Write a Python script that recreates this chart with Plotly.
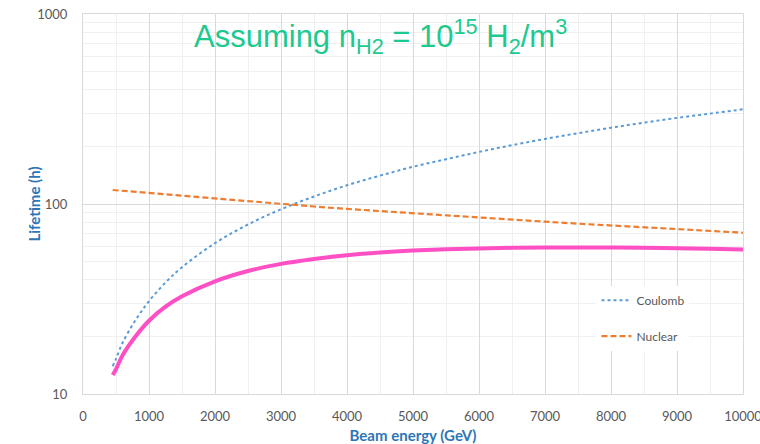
import plotly.graph_objects as go

energy = [450, 500, 600, 800, 1000, 1250, 1500, 2000, 2500, 3000, 3500, 4000, 4500,
          5000, 5500, 6000, 6500, 7000, 7500, 8000, 8500, 9000, 9500, 10000]
coulomb = [14.0, 15.3, 18.6, 24.6, 30.8, 38.6, 46.5, 62.2, 78.0, 93.8, 109.5, 125.5, 141,
           157, 172, 188, 204, 220, 236, 252, 268, 284, 299, 315]
nuclear = [118.5, 118.1, 117.4, 116.1, 114.8, 113.0, 111.2, 107.4, 103.6, 100.2, 97.0, 94.2, 91.7,
           89.3, 87.0, 84.8, 82.7, 80.7, 78.8, 77.0, 75.3, 73.7, 72.1, 70.6]
total = [12.6, 13.5, 16.0, 20.2, 24.3, 28.8, 32.7, 39.2, 44.4, 48.4, 51.4, 53.8, 55.6,
         56.9, 57.8, 58.4, 58.8, 59.0, 59.0, 59.0, 58.9, 58.5, 58.2, 57.7]

x_ticks = [0, 1000, 2000, 3000, 4000, 5000, 6000, 7000, 8000, 9000, 10000]
y_ticks = [10, 100, 1000]

fig = go.Figure()
fig.add_trace(go.Scatter(x=energy, y=total, mode="lines", name="Total", showlegend=False,
                         line=dict(color="#FF4FC4", width=4, shape="spline")))
fig.add_trace(go.Scatter(x=energy, y=coulomb, mode="lines", name="Coulomb", legendgroup="a",
                         line=dict(color="#5B9BD5", width=2, dash="dot", shape="spline")))
fig.add_trace(go.Scatter(x=energy, y=nuclear, mode="lines", name="Nuclear", legendgroup="b",
                         line=dict(color="#ED7D31", width=2.2, dash="6px,3px")))

tickfont = dict(family="Lato, Liberation Sans, sans-serif", size=13, color="#595959")
titlefont = dict(family="Lato, Liberation Sans, sans-serif", size=15, color="#2E75B6", weight="bold")

fig.update_layout(
    template="none",
    width=760, height=444,
    margin=dict(l=83, r=17, t=14, b=50),
    paper_bgcolor="white", plot_bgcolor="white",
    showlegend=True,
    legend=dict(x=0.778, y=0.285, xanchor="left", yanchor="top", bgcolor="white",
                font=dict(family="Lato, Liberation Sans, sans-serif", size=12, color="#595959"),
                traceorder="grouped", tracegroupgap=17, itemwidth=30),
    xaxis=dict(range=[0, 10000], tickvals=x_ticks, ticktext=[str(v) for v in x_ticks],
               automargin=False, ticklabeloverflow="allow",
               showgrid=True, gridcolor="#D9D9D9", gridwidth=1,
               minor=dict(dtick=500, showgrid=True, gridcolor="#F0F0F0", gridwidth=1, ticks=""),
               showline=True, linecolor="#D9D9D9", linewidth=1, mirror=True,
               ticks="outside", ticklen=10, tickcolor="rgba(0,0,0,0)",
               tickfont=tickfont, zeroline=False,
               title=dict(text="Beam energy (GeV)", font=titlefont)),
    yaxis=dict(type="log", range=[1, 3], tickvals=y_ticks, ticktext=[str(v) for v in y_ticks],
               automargin=False, ticklabeloverflow="allow",
               showgrid=True, gridcolor="#D9D9D9", gridwidth=1,
               minor=dict(dtick="D1", showgrid=True, gridcolor="#F0F0F0", gridwidth=1, ticks=""),
               showline=True, linecolor="#D9D9D9", linewidth=1, mirror=True,
               ticks="outside", ticklen=12, tickcolor="rgba(0,0,0,0)",
               tickfont=tickfont, zeroline=False,
               title=dict(text="Lifetime (h)", font=titlefont)),
    annotations=[dict(
        text="Assuming n<sub>H2</sub> = 10<sup>15</sup> H<sub>2</sub>/m<sup>3</sup>",
        xref="paper", yref="paper", x=0.4515, y=0.94, xanchor="center", yanchor="middle",
        showarrow=False,
        font=dict(family="Liberation Sans, Arial, sans-serif", size=31, color="#1CC98F"))],
)

fig.write_html("out.html")
